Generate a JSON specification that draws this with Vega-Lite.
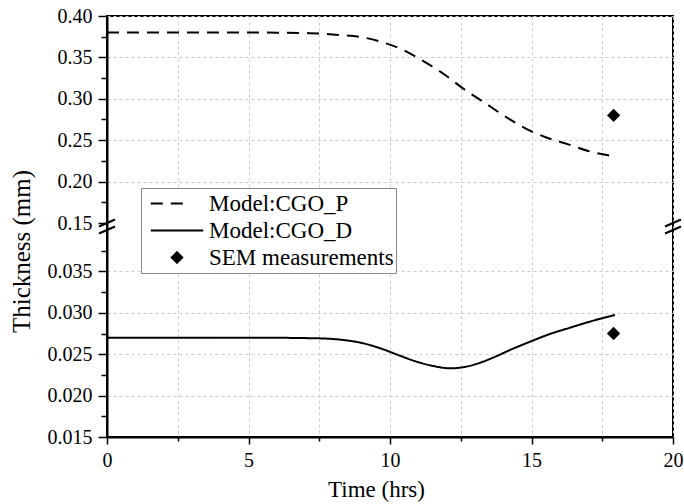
{
  "$schema": "https://vega.github.io/schema/vega-lite/v6.json",
  "width": 566,
  "height": 421,
  "autosize": {"type": "none"},
  "padding": {"left": 107, "top": 16, "right": 11, "bottom": 67},
  "background": "white",
  "config": {
    "font": "Liberation Serif",
    "view": {"stroke": "black", "strokeWidth": 2},
    "axis": {
      "labelFont": "Liberation Serif",
      "titleFont": "Liberation Serif",
      "labelFontSize": 20,
      "titleFontSize": 23,
      "titleFontWeight": "normal",
      "labelColor": "black",
      "titleColor": "black",
      "domainColor": "black",
      "domainWidth": 2,
      "tickColor": "black",
      "tickWidth": 1.5,
      "gridColor": "#cccccc",
      "gridDash": [3, 3],
      "gridWidth": 1
    }
  },
  "datasets": {
    "curves": [
      {"t": 0, "v": 0.380, "series": "Model:CGO_P"},
      {"t": 2, "v": 0.380, "series": "Model:CGO_P"},
      {"t": 4, "v": 0.380, "series": "Model:CGO_P"},
      {"t": 5, "v": 0.380, "series": "Model:CGO_P"},
      {"t": 6, "v": 0.3799, "series": "Model:CGO_P"},
      {"t": 7, "v": 0.3794, "series": "Model:CGO_P"},
      {"t": 7.5, "v": 0.379, "series": "Model:CGO_P"},
      {"t": 8.2, "v": 0.377, "series": "Model:CGO_P"},
      {"t": 8.9, "v": 0.375, "series": "Model:CGO_P"},
      {"t": 9.7, "v": 0.3686, "series": "Model:CGO_P"},
      {"t": 10.4, "v": 0.360, "series": "Model:CGO_P"},
      {"t": 11.1, "v": 0.347, "series": "Model:CGO_P"},
      {"t": 11.9, "v": 0.330, "series": "Model:CGO_P"},
      {"t": 12.6, "v": 0.312, "series": "Model:CGO_P"},
      {"t": 13.4, "v": 0.294, "series": "Model:CGO_P"},
      {"t": 14.1, "v": 0.278, "series": "Model:CGO_P"},
      {"t": 14.8, "v": 0.264, "series": "Model:CGO_P"},
      {"t": 15.5, "v": 0.2535, "series": "Model:CGO_P"},
      {"t": 16.3, "v": 0.245, "series": "Model:CGO_P"},
      {"t": 17.0, "v": 0.237, "series": "Model:CGO_P"},
      {"t": 18.0, "v": 0.230, "series": "Model:CGO_P"},
      {"t": 0, "v": 0.0270, "series": "Model:CGO_D"},
      {"t": 5, "v": 0.0270, "series": "Model:CGO_D"},
      {"t": 7.4, "v": 0.02692, "series": "Model:CGO_D"},
      {"t": 8.35, "v": 0.02672, "series": "Model:CGO_D"},
      {"t": 9.05, "v": 0.02632, "series": "Model:CGO_D"},
      {"t": 9.75, "v": 0.0256, "series": "Model:CGO_D"},
      {"t": 10.35, "v": 0.02482, "series": "Model:CGO_D"},
      {"t": 10.94, "v": 0.0241, "series": "Model:CGO_D"},
      {"t": 11.52, "v": 0.02358, "series": "Model:CGO_D"},
      {"t": 12.12, "v": 0.0233, "series": "Model:CGO_D"},
      {"t": 12.7, "v": 0.0235, "series": "Model:CGO_D"},
      {"t": 13.29, "v": 0.0241, "series": "Model:CGO_D"},
      {"t": 13.8, "v": 0.02482, "series": "Model:CGO_D"},
      {"t": 14.24, "v": 0.02551, "series": "Model:CGO_D"},
      {"t": 14.95, "v": 0.02651, "series": "Model:CGO_D"},
      {"t": 15.65, "v": 0.02744, "series": "Model:CGO_D"},
      {"t": 16.36, "v": 0.0282, "series": "Model:CGO_D"},
      {"t": 17.06, "v": 0.02893, "series": "Model:CGO_D"},
      {"t": 17.95, "v": 0.02973, "series": "Model:CGO_D"}
    ],
    "sem": [
      {"t": 17.9, "v": 0.280, "series": "SEM measurements"},
      {"t": 17.9, "v": 0.0275, "series": "SEM measurements"}
    ],
    "breaks": [
      {"t": 0, "v": 0.095},
      {"t": 20, "v": 0.095}
    ]
  },
  "encoding": {
    "x": {
      "field": "t",
      "type": "quantitative",
      "scale": {"domain": [0, 20], "nice": false, "zero": false},
      "axis": {
        "title": "Time (hrs)",
        "values": [0, 2.5, 5, 7.5, 10, 12.5, 15, 17.5, 20],
        "labelExpr": "datum.value % 5 == 0 ? datum.label : ''",
        "tickSize": {"condition": {"test": "datum.value % 5 == 0", "value": 7}, "value": 4},
        "labelPadding": 6,
        "labelFlush": false,
        "grid": true,
        "titleX": 269,
        "titleY": 59,
        "titleBaseline": "alphabetic",
        "titleAlign": "center"
      }
    },
    "y": {
      "field": "v",
      "type": "quantitative",
      "scale": {
        "type": "linear",
        "domain": [0.015, 0.04, 0.15, 0.40],
        "range": [421, 214, 207, 0],
        "nice": false,
        "zero": false
      },
      "axis": {
        "title": "Thickness (mm)",
        "titleFontSize": 25,
        "values": [0.015, 0.0175, 0.02, 0.0225, 0.025, 0.0275, 0.03, 0.0325, 0.035, 0.0375, 0.15, 0.175, 0.2, 0.225, 0.25, 0.275, 0.3, 0.325, 0.35, 0.375, 0.4],
        "labelExpr": "round(datum.value * (datum.value < 0.1 ? 2000 : 200)) % 10 == 0 ? (datum.value < 0.1 ? format(datum.value, '.3f') : format(datum.value, '.2f')) : ''",
        "tickSize": {"condition": {"test": "round(datum.value * (datum.value < 0.1 ? 2000 : 200)) % 10 == 0", "value": 9}, "value": 6},
        "labelPadding": 6,
        "labelFlush": false,
        "labelOverlap": false,
        "grid": true,
        "gridOpacity": {"condition": {"test": "round(datum.value * (datum.value < 0.1 ? 2000 : 200)) % 10 == 0 && abs(datum.value - 0.15) > 0.001", "value": 1}, "value": 0},
        "titleAngle": -90,
        "titleX": -78,
        "titleY": 235,
        "titleBaseline": "alphabetic",
        "titleAlign": "center"
      }
    }
  },
  "layer": [
    {
      "data": {"name": "breaks"},
      "mark": {
        "type": "point",
        "shape": "M-0.8,0L0.8,-0.7M-0.8,0.7L0.8,0",
        "size": 400,
        "filled": false,
        "stroke": "black",
        "strokeWidth": 2,
        "opacity": 1
      }
    },
    {
      "data": {"name": "curves"},
      "mark": {"type": "line", "color": "black", "strokeWidth": 2, "interpolate": "monotone"},
      "encoding": {
        "strokeDash": {
          "field": "series",
          "type": "nominal",
          "scale": {
            "domain": ["Model:CGO_P", "Model:CGO_D", "SEM measurements"],
            "range": [[12, 8], [1, 0], [1, 0]]
          },
          "legend": {
            "title": null,
            "orient": "none",
            "legendX": 34,
            "legendY": 172,
            "padding": 2,
            "fillColor": "white",
            "strokeColor": "#888888",
            "symbolSize": 110,
            "symbolStrokeWidth": 2,
            "symbolStrokeColor": "black",
            "symbolFillColor": "black",
            "labelFontSize": 23,
            "labelFont": "Liberation Serif",
            "labelColor": "black",
            "labelLimit": 400,
            "labelOffset": 20.5,
            "symbolOffset": 22.5,
            "clipHeight": 27,
            "rowPadding": 0,
            "encode": {"symbols": {"update": {"stroke": {"value": "black"}, "fill": {"value": "black"}, "strokeWidth": {"value": 2}, "opacity": {"value": 1}}}}
          }
        }
      }
    },
    {
      "data": {"name": "sem"},
      "mark": {"type": "point", "filled": true, "color": "black", "stroke": "black", "strokeWidth": 2, "size": 110, "opacity": 1},
      "encoding": {
        "shape": {
          "field": "series",
          "type": "nominal",
          "scale": {
            "domain": ["Model:CGO_P", "Model:CGO_D", "SEM measurements"],
            "range": ["M-5,0L1.2,0", "M-5,0L5,0", "diamond"]
          },
          "legend": {
            "title": null,
            "orient": "none",
            "legendX": 34,
            "legendY": 172,
            "padding": 2,
            "fillColor": "white",
            "strokeColor": "#888888",
            "symbolSize": 110,
            "symbolStrokeWidth": 2,
            "symbolStrokeColor": "black",
            "symbolFillColor": "black",
            "labelFontSize": 23,
            "labelFont": "Liberation Serif",
            "labelColor": "black",
            "labelLimit": 400,
            "labelOffset": 20.5,
            "symbolOffset": 22.5,
            "clipHeight": 27,
            "rowPadding": 0,
            "encode": {"symbols": {"update": {"stroke": {"value": "black"}, "fill": {"value": "black"}, "strokeWidth": {"value": 2}, "opacity": {"value": 1}}}}
          }
        }
      }
    }
  ]
}
